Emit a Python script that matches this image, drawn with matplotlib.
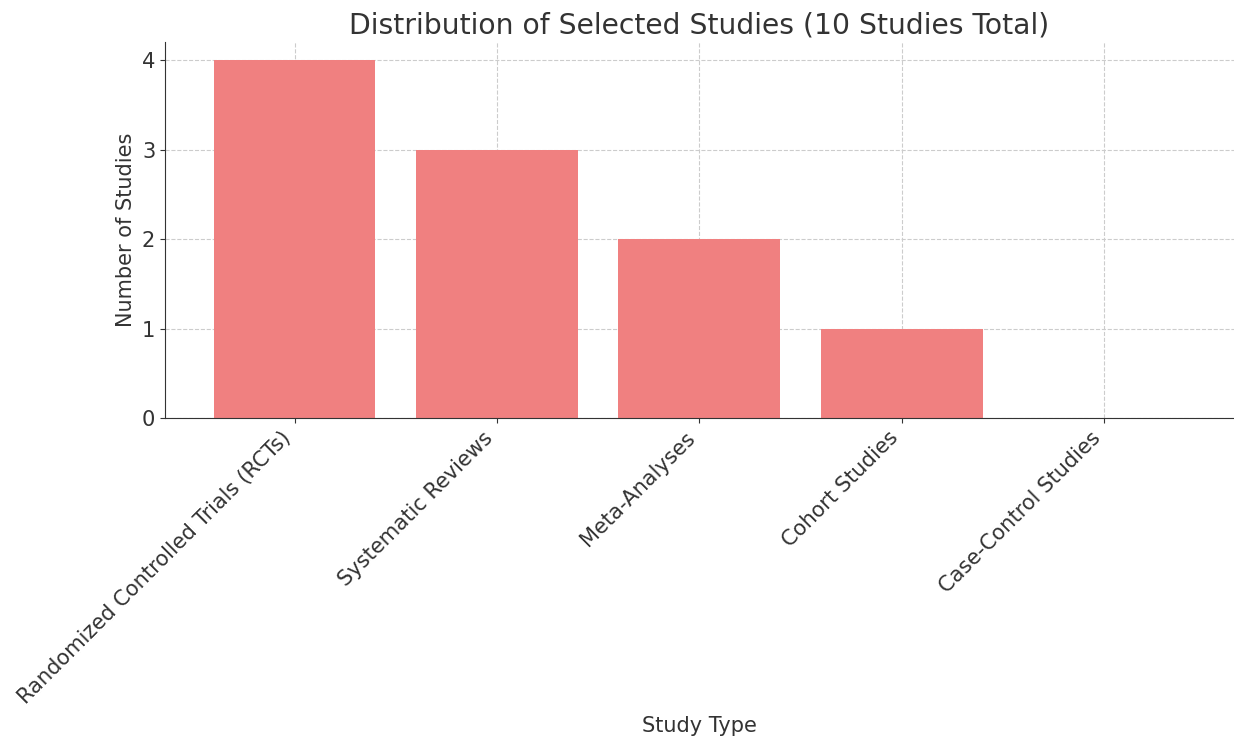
import matplotlib.pyplot as plt

# Data
study_types = ['Randomized Controlled Trials (RCTs)', 'Systematic Reviews',
               'Meta-Analyses', 'Cohort Studies', 'Case-Control Studies']
counts = [4, 3, 2, 1, 0]

fig = plt.figure(figsize=(12.34, 7.4), dpi=100)
ax = fig.add_axes([0.1337, 0.435, 0.866, 0.508])

ax.bar(study_types, counts, color='lightcoral', width=0.8, zorder=2)

ax.set_title('Distribution of Selected Studies (10 Studies Total)', fontsize=20.3, color='#333333')
ax.set_xlabel('Study Type', fontsize=15, color='#333333')
ax.xaxis.set_label_coords(0.5, -0.793)
ax.set_ylabel('Number of Studies', fontsize=15, color='#333333')
ax.set_yticks([0, 1, 2, 3, 4])
plt.setp(ax.get_xticklabels(), rotation=45, ha='right')
ax.tick_params(labelsize=15.1, colors='#333333')

ax.grid(True, linestyle='--', color='#cccccc', linewidth=0.8, zorder=0)
for s in ['top', 'right']:
    ax.spines[s].set_visible(False)
for s in ['left', 'bottom']:
    ax.spines[s].set_color('#333333')

fig.savefig('out.png')
